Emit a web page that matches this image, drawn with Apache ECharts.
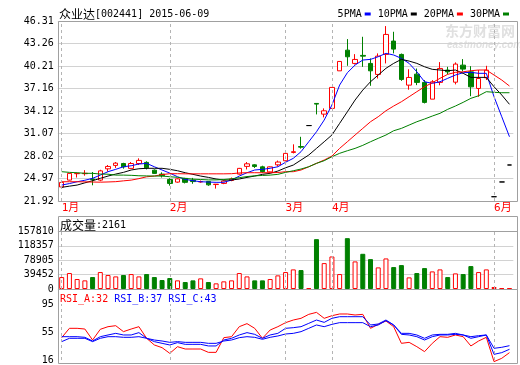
<!DOCTYPE html>
<html><head><meta charset="utf-8">
<script src="https://cdn.jsdelivr.net/npm/echarts@6/dist/echarts.min.js"></script>
<style>html,body{margin:0;padding:0;background:#fff}#c{width:520px;height:365px}</style>
</head><body><div id="c"></div>
<script>
// ---- data ----
const stockName = '众业达', stockCode = '002441', chartDate = '2015-06-09';
const monthNames  = ['1月','2月','3月','4月','6月'];
const monthCounts = [14, 15, 6, 21, 3];
const open  = [23.82,24.75,25.62,25.62,24.9,24.75,26.28,26.74,27.0,26.34,27.0,27.15,26.1,25.56,24.84,24.48,24.98,24.75,24.5,24.57,24.15,24.3,24.7,25.56,26.61,26.82,26.55,25.87,26.82,27.37,28.5,29.3,32.14,35.14,33.69,34.47,39.56,42.36,40.56,41.65,40.56,39.07,41.78,43.59,41.78,37.62,39.11,37.99,35.72,37.99,39.66,38.02,40.33,39.42,37.17,38.61,22.5,24.5,26.8];
const close = [24.44,25.66,25.66,25.68,24.82,26.0,26.6,27.05,26.55,27.0,27.42,26.42,25.66,25.35,24.3,24.92,24.45,24.55,24.55,24.11,24.2,24.62,24.9,26.34,26.96,26.6,25.9,26.55,27.2,28.37,28.6,29.22,32.14,35.05,34.14,37.31,40.83,41.46,41.1,41.55,39.56,41.55,44.49,42.5,38.39,38.66,37.99,35.28,38.07,39.88,39.42,40.47,39.79,37.39,38.52,39.65,22.5,24.5,26.8];
const low   = [23.75,24.7,25.1,25.35,24.05,24.6,25.9,26.4,26.3,26.3,26.8,26.2,25.6,25.1,24.0,24.4,24.3,24.25,24.4,23.98,23.6,24.2,24.6,25.5,26.2,26.4,25.75,25.8,26.6,27.3,28.37,29.02,32.14,33.65,33.25,34.47,39.56,40.24,40.42,40.1,37.53,38.52,40.56,41.92,38.2,37.0,37.62,35.14,35.72,37.6,39.11,37.72,39.52,36.12,36.04,38.31,22.5,24.5,26.8];
const high  = [24.5,25.7,25.7,26.1,25.85,26.15,26.8,27.2,27.1,27.2,27.7,27.3,26.2,25.8,25.0,25.0,25.05,25.05,24.7,24.6,24.2,24.7,25.1,26.4,27.2,26.9,26.7,26.6,27.4,28.4,29.6,30.62,32.14,35.14,34.47,37.31,40.83,43.86,41.82,44.17,41.24,41.92,45.62,44.85,41.9,39.77,39.87,38.3,38.3,40.74,40.1,40.7,41.15,40.19,39.66,40.24,22.5,24.5,26.8];
const volume = [32800,43800,27400,23700,32800,46500,38300,34600,38300,41000,34600,41000,32800,24600,30100,23700,19100,23700,29200,19100,15500,21000,23700,43800,34600,23700,23700,27400,37400,46500,53800,52000,2700,136800,71100,89300,41000,139500,75700,96600,82000,59300,83900,60200,65600,31900,43800,57400,48300,53800,32800,42800,41000,62900,46500,53800,5500,2000,2161];
const ma5  = [24.08,24.28,24.53,24.73,24.99,25.43,25.89,26.21,26.56,26.7,26.93,27.02,26.56,26.12,25.7,25.21,24.85,24.67,24.53,24.49,24.45,24.45,24.76,25.3,25.75,26.12,26.21,26.35,26.56,27.17,27.7,28.6,29.95,31.3,32.89,34.92,37.63,39.3,40.34,41.02,41.11,41.47,41.93,41.7,41.25,40.57,39.43,38.08,37.86,38.08,38.54,38.99,39.3,39.35,39.22,39.22,36.05,33.34,30.63];
const ma10 = [23.77,23.93,24.08,24.38,24.67,24.99,25.3,25.57,25.8,26.12,26.29,26.35,26.35,26.35,26.21,26.02,25.75,25.53,25.3,25.12,24.9,24.76,24.76,24.9,25.12,25.3,25.53,25.67,25.98,26.42,26.79,27.47,28.15,29.05,29.95,30.86,32.44,34.01,35.6,36.95,38.08,38.99,39.9,40.57,41.11,40.88,40.57,40.11,39.76,39.67,39.57,39.67,39.22,38.67,38.67,38.67,37.4,36.28,35.02];
const ma20 = [24.53,24.53,24.53,24.51,24.49,24.47,24.5,24.54,24.65,24.75,24.95,25.2,25.3,25.5,25.62,25.62,25.6,25.6,25.6,25.6,25.6,25.6,25.62,25.72,25.75,25.75,25.75,25.75,25.78,25.89,25.89,26.12,26.56,27.02,27.47,28.01,29.05,29.95,30.86,31.76,32.66,33.34,34.15,34.79,35.37,36.05,36.73,37.4,37.94,38.54,39.08,39.35,39.43,39.57,39.67,39.67,38.99,38.31,37.5];
const ma30 = [25.89,25.8,25.75,25.67,25.67,25.57,25.55,25.43,25.43,25.4,25.34,25.32,25.3,25.3,25.21,25.13,24.98,24.88,24.83,24.78,24.78,24.83,24.93,25.08,25.23,25.33,25.38,25.43,25.53,25.8,26.02,26.25,26.56,27.02,27.38,27.92,28.38,28.73,29.05,29.46,29.95,30.41,30.86,31.44,31.76,32.21,32.66,33.03,33.43,33.8,34.34,34.79,35.29,35.83,36.18,36.73,36.65,36.59,36.59];
const rsiA = [47.5,60.7,60.7,59.7,44.2,59.3,63.0,64.4,56.0,59.7,63.0,46.6,37.2,33.4,25.4,34.8,31.5,31.5,31.5,26.8,26.8,47.5,48.9,63.0,67.3,60.7,46.6,58.3,63.0,68.7,72.4,74.8,80.4,83.2,74.8,78.5,80.9,80.9,79.5,80.4,60.7,66.3,71.0,63.0,39.5,40.9,34.8,27.8,39.5,48.9,48.0,51.3,48.9,35.8,42.8,48.0,13.7,18.4,26.4];
const rsiB = [48.9,48.9,48.9,48.0,42.8,48.9,51.3,53.6,51.3,51.3,54.6,46.6,41.9,39.5,37.2,40.5,38.1,38.1,38.1,35.8,35.8,44.2,46.6,51.3,54.6,52.2,46.6,51.3,53.6,60.7,61.6,63.0,67.7,72.4,69.1,74.8,77.1,77.1,77.1,77.1,65.4,66.8,72.4,65.4,53.6,53.6,51.3,46.6,51.3,52.2,52.2,53.6,51.3,46.6,48.9,51.3,24.0,26.4,31.1];
const rsiC = [41.9,46.6,46.6,46.6,41.9,46.6,48.9,48.9,48.0,48.0,48.9,46.6,44.2,42.8,40.9,41.9,40.9,40.9,40.9,39.5,39.5,42.8,44.2,47.5,48.9,48.0,45.2,48.0,49.9,52.7,53.6,56.0,60.7,65.4,63.0,66.3,68.7,68.7,68.7,68.7,63.0,65.4,71.5,65.4,52.2,51.3,48.9,44.2,48.9,51.3,51.3,52.2,51.3,48.9,50.3,51.3,32.5,33.9,36.2];
const rsiLast = [32, 37, 43];
const priceTicks  = ['21.92','24.97','28.02','31.07','34.12','37.16','40.21','43.26','46.31'];
const volumeTicks = ['0','39452','78905','118357','157810'];
const rsiTicks    = ['16','55','95'];
const maNames = ['5PMA','10PMA','20PMA','30PMA'];

// ---- build ----
const RED = '#ff0000', GREEN = '#008000', BLUE = '#0000ff', BLACK = '#000000';
const MONO = "'DejaVu Sans Mono', monospace";
const CJK = "'Noto Sans CJK SC'";
const categories = [], monthStart = [];
monthNames.forEach((m, mi) => {
  monthStart.push(categories.length);
  for (let k = 0; k < monthCounts[mi]; k++) categories.push(m + '-' + (k + 1));
});
const startSet = new Set(monthStart);

const candleData = open.map((o, i) => {
  const it = { value: [o, close[i], low[i], high[i]] };
  if (high[i] === low[i]) it.itemStyle = { color: BLACK, color0: BLACK, borderColor: BLACK, borderColor0: BLACK, borderColorDoji: BLACK };
  return it;
});
const volData = volume.map((v, i) => {
  const up = close[i] >= open[i];
  return { value: v, itemStyle: up ? { color: '#fff', borderColor: RED, borderWidth: 1 } : { color: GREEN, borderColor: GREEN, borderWidth: 1 } };
});

const GL = 57.84, GW = 455.5;
const grids = [
  { left: GL, width: GW, top: 21, height: 180 },
  { left: GL, width: GW, top: 231.5, height: 57.5 },
  { left: GL, width: GW, top: 304, height: 56 }
];
const vLines = {
  silent: true, symbol: ['none', 'none'], label: { show: false }, animation: false,
  lineStyle: { color: '#b4b4b4', type: [3, 3], width: 1 },
  data: monthStart.map(i => ({ xAxis: categories[i] }))
};
const xBase = (gi) => ({
  type: 'category', gridIndex: gi, data: categories, boundaryGap: true,
  axisLine: { show: false }, axisTick: { show: false }, splitLine: { show: false },
  axisLabel: { show: false }
});
const xAxes = [xBase(0), xBase(1), xBase(2)];
xAxes[0].axisLabel = {
  show: true, interval: (i) => startSet.has(i), formatter: (v) => v.split('-')[0],
  color: RED, align: 'left', margin: 2, fontSize: 11, fontFamily: MONO + ',' + CJK
};
const yLabel = (fmt) => ({ formatter: fmt, color: BLACK, fontFamily: MONO, fontSize: 10, margin: 4 });
const nearest = (arr, base, step, v) => arr[Math.round((v - base) / step)];
const PSTEP = (46.31 - 21.92) / 8;

const option = {
  animation: false,
  backgroundColor: '#fff',
  title: {
    left: 59, top: 8, padding: 0,
    text: '{c|' + stockName + '}{a|[' + stockCode + '] ' + chartDate + '}',
    textStyle: { fontWeight: 'normal', rich: { c: { fontFamily: CJK, fontSize: 12, fontWeight: 'normal', color: BLACK }, a: { fontFamily: MONO, fontSize: 10, fontWeight: 'normal', color: BLACK } } }
  },
  legend: {
    data: maNames, right: 11, top: 9, padding: 0, align: 'right', icon: 'rect',
    itemWidth: 6, itemHeight: 3, itemGap: 7, selectedMode: false,
    textStyle: { fontFamily: MONO, fontSize: 10, color: BLACK, padding: [0, -2, 0, 0] }
  },
  grid: grids,
  xAxis: xAxes,
  yAxis: [
    { type: 'value', gridIndex: 0, min: 21.92, max: 46.31, interval: PSTEP, axisLine: { show: false }, axisTick: { show: false },
      splitLine: { show: true, lineStyle: { color: '#d2d2d2', width: 1 } },
      axisLabel: yLabel(v => nearest(priceTicks, 21.92, PSTEP, v)) },
    { type: 'value', gridIndex: 1, min: 0, max: 157810, interval: 157810 / 4, axisLine: { show: false }, axisTick: { show: false },
      splitLine: { show: true, lineStyle: { color: '#d2d2d2', width: 1 } },
      axisLabel: yLabel(v => nearest(volumeTicks, 0, 157810 / 4, v)) },
    { type: 'value', gridIndex: 2, min: 16, max: 95, interval: 39.5, axisLine: { show: false }, axisTick: { show: false },
      splitLine: { show: false },
      axisLabel: yLabel(v => nearest(rsiTicks, 16, 39.5, v)) }
  ],
  graphic: [
    { type: 'rect', silent: true, z: 100, shape: { x: 58.5, y: 21.5, width: 459, height: 180 }, style: { fill: 'none', stroke: '#a0a0a0', lineWidth: 1 } },
    { type: 'rect', silent: true, z: 100, shape: { x: 58.5, y: 216.5, width: 459, height: 73 }, style: { fill: 'none', stroke: '#a0a0a0', lineWidth: 1 } },
    { type: 'rect', silent: true, z: 100, shape: { x: 58.5, y: 289.5, width: 459, height: 74 }, style: { fill: 'none', stroke: '#a0a0a0', lineWidth: 1 } },
    { type: 'line', silent: true, z: 100, shape: { x1: 58.5, y1: 231.5, x2: 517.5, y2: 231.5 }, style: { stroke: '#a0a0a0', lineWidth: 1 } },
    { type: 'text', silent: true, z: 100, x: 60, y: 225, style: {
        text: '{c|成交量}{a|:' + volume[volume.length - 1] + '}', verticalAlign: 'middle',
        rich: { c: { fontFamily: CJK, fontSize: 12, fill: BLACK }, a: { fontFamily: MONO, fontSize: 10, fill: BLACK } } } },
    { type: 'text', silent: true, z: 100, x: 60, y: 299, style: {
        text: '{r|RSI_A:' + rsiLast[0] + '} {b|RSI_B:' + rsiLast[1] + '} {b|RSI_C:' + rsiLast[2] + '}', verticalAlign: 'middle',
        font: '10px ' + MONO,
        rich: { r: { fontFamily: MONO, fontSize: 10, fill: RED }, b: { fontFamily: MONO, fontSize: 10, fill: BLUE } } } },
    { type: 'text', silent: true, z: 0, x: 445, y: 24, style: { text: '东方财富网', font: 'bold 14px ' + CJK, fill: '#e0e0e0' } },
    { type: 'text', silent: true, z: 0, x: 447, y: 40, style: { text: 'eastmoney.com', font: 'italic bold 10px Arial, sans-serif', fill: '#e0e0e0' } }
  ],
  series: [
    { type: 'candlestick', name: 'K', xAxisIndex: 0, yAxisIndex: 0, data: candleData, barWidth: 5, z: 2,
      itemStyle: { color: '#fff', color0: GREEN, borderColor: RED, borderColor0: GREEN, borderColorDoji: RED, borderWidth: 1 },
      markLine: vLines },
    { type: 'line', name: maNames[0], xAxisIndex: 0, yAxisIndex: 0, data: ma5, symbol: 'none', z: 3, lineStyle: { color: BLUE, width: 1 }, itemStyle: { color: BLUE } },
    { type: 'line', name: maNames[1], xAxisIndex: 0, yAxisIndex: 0, data: ma10, symbol: 'none', z: 3, lineStyle: { color: BLACK, width: 1 }, itemStyle: { color: BLACK } },
    { type: 'line', name: maNames[2], xAxisIndex: 0, yAxisIndex: 0, data: ma20, symbol: 'none', z: 3, lineStyle: { color: RED, width: 1 }, itemStyle: { color: RED } },
    { type: 'line', name: maNames[3], xAxisIndex: 0, yAxisIndex: 0, data: ma30, symbol: 'none', z: 3, lineStyle: { color: GREEN, width: 1 }, itemStyle: { color: GREEN } },
    { type: 'bar', name: 'VOL', xAxisIndex: 1, yAxisIndex: 1, data: volData, barWidth: 5, markLine: vLines },
    { type: 'line', name: 'RSI_A', xAxisIndex: 2, yAxisIndex: 2, data: rsiA, symbol: 'none', clip: false, lineStyle: { color: RED, width: 1 }, markLine: vLines },
    { type: 'line', name: 'RSI_B', xAxisIndex: 2, yAxisIndex: 2, data: rsiB, symbol: 'none', clip: false, lineStyle: { color: BLUE, width: 1 } },
    { type: 'line', name: 'RSI_C', xAxisIndex: 2, yAxisIndex: 2, data: rsiC, symbol: 'none', clip: false, lineStyle: { color: BLUE, width: 1 } }
  ]
};
const chart = echarts.init(document.getElementById('c'), null, { renderer: 'canvas' });
chart.setOption(option);
</script>
</body></html>
